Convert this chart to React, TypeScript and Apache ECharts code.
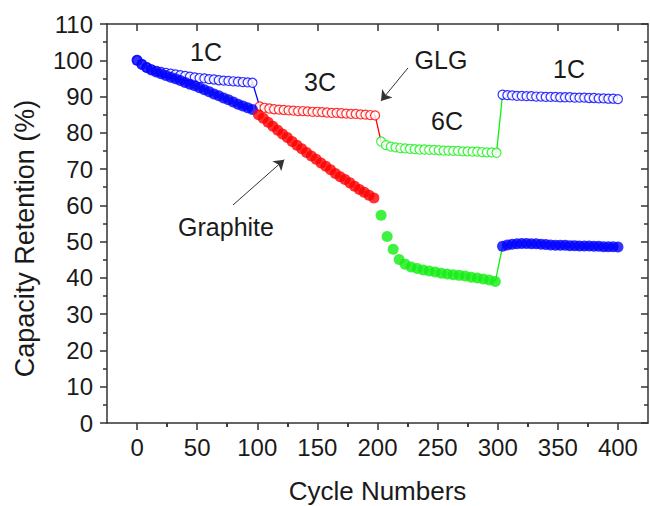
import { useEffect, useRef } from "react";
import * as echarts from "echarts";

// ---- axis ticks ----
const xMajorTicks = [0, 50, 100, 150, 200, 250, 300, 350, 400];
const xMinorTicks = [25, 75, 125, 175, 225, 275, 325, 375];

// ---- segment rates and colours ----
const segmentRates = ["1C", "3C", "6C", "1C"];
const segmentColors = ["#0000ff", "#ff0000", "#11ee11", "#0000ff"];

// ---- GLG (open circles): first cycle of each segment, step in cycles ----
const glgStarts = [0, 102, 203, 304];
const glgSteps = [4, 4, 4, 4];
const glg1C = [100, 98.8, 98.0, 97.5, 97.1, 96.8, 96.5, 96.3, 96.1, 95.9, 95.7, 95.5, 95.3, 95.1, 95.0, 94.8, 94.7, 94.5, 94.4, 94.3, 94.2, 94.1, 94.0, 93.9, 93.8];
const glg3C = [87.3, 86.9, 86.7, 86.5, 86.4, 86.3, 86.2, 86.1, 86.0, 86.0, 85.9, 85.8, 85.8, 85.7, 85.6, 85.5, 85.5, 85.4, 85.3, 85.2, 85.2, 85.1, 85.0, 84.9, 84.8];
const glg6C = [77.6, 76.6, 76.2, 76.0, 75.8, 75.7, 75.6, 75.5, 75.4, 75.4, 75.3, 75.3, 75.2, 75.1, 75.1, 75.0, 75.0, 74.9, 74.9, 74.8, 74.8, 74.7, 74.6, 74.6, 74.5];
const glg1Cb = [90.5, 90.4, 90.3, 90.2, 90.2, 90.1, 90.1, 90.0, 90.0, 89.9, 89.9, 89.9, 89.8, 89.8, 89.8, 89.7, 89.7, 89.7, 89.6, 89.6, 89.5, 89.5, 89.4, 89.4, 89.3];

// ---- Graphite (filled circles) ----
const grStarts = [0, 101, 203, 304];
const grSteps = [4, 4, 5, 4];
const gr1C = [100, 98.9, 98.0, 97.3, 96.8, 96.3, 95.8, 95.3, 94.9, 94.4, 93.9, 93.4, 93.0, 92.4, 91.9, 91.3, 90.7, 90.2, 89.6, 89.1, 88.5, 87.9, 87.4, 86.9, 86.4];
const gr3C = [85.0, 84.0, 82.9, 81.8, 80.7, 79.7, 78.7, 77.6, 76.6, 75.6, 74.6, 73.6, 72.7, 71.7, 70.8, 69.8, 68.8, 67.9, 67.1, 66.2, 65.3, 64.4, 63.6, 62.8, 62.0];
const gr6C = [57.3, 51.4, 47.9, 45.1, 43.8, 43.0, 42.6, 42.2, 41.9, 41.6, 41.3, 41.1, 40.9, 40.7, 40.5, 40.2, 40.0, 39.7, 39.4, 39.0];
const gr1Cb = [48.7, 49.1, 49.3, 49.4, 49.5, 49.5, 49.4, 49.4, 49.3, 49.2, 49.1, 49.0, 49.0, 49.0, 48.9, 48.9, 48.8, 48.8, 48.8, 48.7, 48.7, 48.6, 48.6, 48.6, 48.5];

// segments whose end is joined by a line to the next segment's start
const glgJoins = [0, 1, 2];
const grJoins = [2];

// ---- annotation arrows (data coordinates: from -> to) ----
const glgArrow = [[225.4, 97.9], [202.9, 88.8]];
const graphiteArrow = [[79.8, 60.1], [122.5, 72.6]];

const FONT = "'Liberation Sans', Arial, Helvetica, sans-serif";
const AXIS = "#333333";
const TEXT = "#1a1a1a";

function toPoints(start: number, step: number, vals: number[]) {
  return vals.map((v, i) => [start + i * step, v]);
}

export default function App() {
  const ref = useRef<HTMLDivElement>(null);

  useEffect(() => {
    const chart = echarts.init(ref.current!, null, { renderer: "svg" });

    const glgSegs = [glg1C, glg3C, glg6C, glg1Cb].map((v, i) => toPoints(glgStarts[i], glgSteps[i], v));
    const grSegs = [gr1C, gr3C, gr6C, gr1Cb].map((v, i) => toPoints(grStarts[i], grSteps[i], v));

    const series: any[] = [];

    const joinSeries = (segs: number[][][], idx: number) => ({
      type: "line",
      name: "join",
      data: [segs[idx][segs[idx].length - 1], segs[idx + 1][0]],
      symbol: "none",
      showSymbol: false,
      lineStyle: { color: segmentColors[idx], width: 1.3 },
      z: 1,
      silent: true,
    });
    glgJoins.forEach((i) => series.push(joinSeries(glgSegs, i)));
    grJoins.forEach((i) => series.push(joinSeries(grSegs, i)));

    glgSegs.forEach((pts, i) =>
      series.push({
        type: "scatter",
        name: "GLG " + segmentRates[i],
        data: pts,
        symbol: "circle",
        symbolSize: 9,
        itemStyle: { color: "#ffffff", borderColor: segmentColors[i], borderWidth: 1.2 },
        z: 2,
      })
    );
    grSegs.forEach((pts, i) =>
      series.push({
        type: "scatter",
        name: "Graphite " + segmentRates[i],
        data: pts,
        symbol: "circle",
        symbolSize: 11,
        itemStyle: { color: segmentColors[i] },
        z: 3,
      })
    );

    series.push({
      type: "line",
      name: "arrows",
      data: [],
      markLine: {
        silent: true,
        symbol: ["none", "arrow"],
        symbolSize: 10,
        label: { show: false },
        lineStyle: { color: AXIS, width: 1, type: "solid" },
        data: [
          [{ coord: glgArrow[0] }, { coord: glgArrow[1] }],
          [{ coord: graphiteArrow[0] }, { coord: graphiteArrow[1] }],
        ],
      },
    });

    const lineStyle = { color: AXIS, width: 1.5 };
    const baseX = {
      type: "value",
      min: -25,
      max: 425,
      splitLine: { show: false },
      axisLine: { show: false, lineStyle },
    };

    const annText = (text: string, x: number, y: number) => ({
      type: "text",
      x,
      y,
      style: {
        text,
        fontSize: 25,
        fontFamily: FONT,
        fill: TEXT,
        textAlign: "center",
        textVerticalAlign: "middle",
      },
      z: 10,
    });

    chart.setOption({
      animation: false,
      backgroundColor: "#ffffff",
      grid: { left: 107, right: 2, top: 24, bottom: 83, containLabel: false, outerBoundsMode: "none" },
      xAxis: [
        {
          ...baseX,
          position: "bottom",
          axisLine: { show: true, onZero: false, lineStyle },
          axisTick: { show: true, inside: false, length: 7, customValues: xMajorTicks, lineStyle },
          axisLabel: { customValues: xMajorTicks, fontSize: 24, fontFamily: FONT, color: TEXT, margin: 12 },
          name: "Cycle Numbers",
          nameLocation: "middle",
          nameGap: 55,
          nameTextStyle: { fontSize: 26, fontFamily: FONT, color: TEXT },
        },
        {
          ...baseX,
          position: "bottom",
          axisTick: { show: true, inside: false, length: 4, customValues: xMinorTicks, lineStyle },
          axisLabel: { show: false },
        },
        {
          ...baseX,
          position: "top",
          axisLine: { show: true, onZero: false, lineStyle },
          axisTick: { show: true, inside: true, length: 7, customValues: xMajorTicks, lineStyle },
          axisLabel: { show: false },
        },
        {
          ...baseX,
          position: "top",
          axisTick: { show: true, inside: true, length: 4, customValues: xMinorTicks, lineStyle },
          axisLabel: { show: false },
        },
      ],
      yAxis: [
        {
          type: "value",
          position: "left",
          min: 0,
          max: 110,
          interval: 10,
          splitLine: { show: false },
          axisLine: { show: true, onZero: false, lineStyle },
          axisTick: { show: true, inside: false, length: 7, lineStyle },
          minorTick: { show: true, splitNumber: 2, length: 4, lineStyle },
          axisLabel: { fontSize: 24, fontFamily: FONT, color: TEXT, margin: 14 },
          name: "Capacity Retention (%)",
          nameLocation: "middle",
          nameGap: 69,
          nameTextStyle: { fontSize: 27, fontFamily: FONT, color: TEXT, padding: [0, 30, 0, 0] },
        },
        {
          type: "value",
          position: "right",
          min: 0,
          max: 110,
          interval: 10,
          splitLine: { show: false },
          axisLine: { show: true, onZero: false, lineStyle },
          axisTick: { show: true, inside: true, length: 7, lineStyle },
          minorTick: { show: true, splitNumber: 2, length: 4, lineStyle },
          axisLabel: { show: false },
        },
      ],
      series,
      graphic: [
        annText("1C", 206, 52),
        annText("3C", 320, 82),
        annText("GLG", 441, 60),
        annText("6C", 447, 121),
        annText("1C", 569, 69),
        annText("Graphite", 226, 227),
      ],
    });

    return () => chart.dispose();
  }, []);

  return (
    <div
      ref={ref}
      style={{ position: "fixed", left: 0, top: 0, width: 650, height: 506 }}
    />
  );
}
